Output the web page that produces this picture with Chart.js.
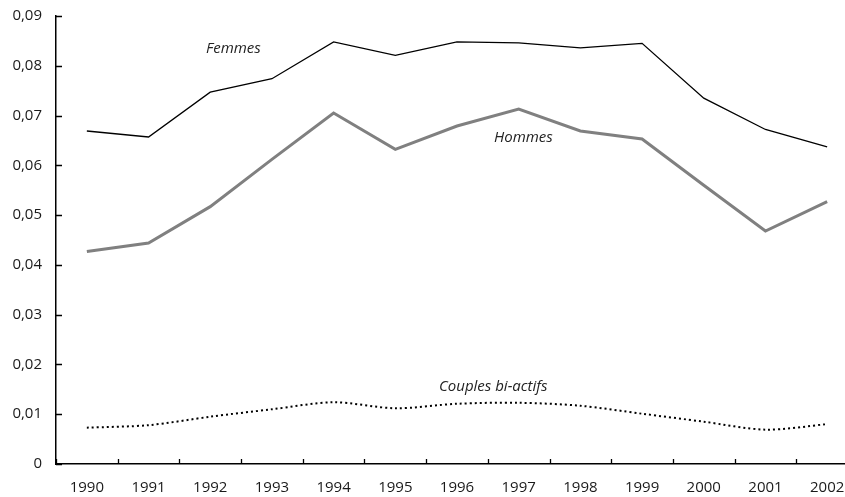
<!DOCTYPE html>
<html>
<head>
<meta charset="utf-8">
<script src="https://cdn.jsdelivr.net/npm/chart.js@4.4.1/dist/chart.umd.min.js"></script>
<style>
  html, body { margin:0; padding:0; background:#fff; overflow:hidden; width:845px; height:497px; }
  #wrap { width:860px; height:497px; }
</style>
</head>
<body>
<div id="wrap"><canvas id="chart" width="860" height="497"></canvas></div>
<script>
// données
const years = ['1990','1991','1992','1993','1994','1995','1996','1997','1998','1999','2000','2001','2002'];
const femmes = [0.0669, 0.0657, 0.0747, 0.0774, 0.0848, 0.0821, 0.0848, 0.0846, 0.0836, 0.0845, 0.0735, 0.0672, 0.0637];
const hommes = [0.0427, 0.0444, 0.0517, 0.0612, 0.0705, 0.0632, 0.0679, 0.0713, 0.0669, 0.0653, 0.0560, 0.0468, 0.0527];
const couples = [0.0073, 0.0078, 0.0095, 0.0110, 0.0124, 0.0112, 0.0121, 0.0123, 0.0117, 0.0101, 0.0085, 0.0069, 0.0080];
const yTicks = [0, 0.01, 0.02, 0.03, 0.04, 0.05, 0.06, 0.07, 0.08, 0.09];

const FONT = '"Open Sans", "Noto Sans", sans-serif';

// etiquettes en italique + petits traits de graduation vers l'intérieur
const decor = {
  id: 'decor',
  afterDraw(chart) {
    const ctx = chart.ctx;
    const x = chart.scales.x, y = chart.scales.y;
    const a = chart.chartArea;
    ctx.save();
    ctx.strokeStyle = '#000';
    ctx.lineWidth = 1.3;
    ctx.beginPath();
    yTicks.forEach(v => {
      const py = Math.round(y.getPixelForValue(v)) + 0.5;
      ctx.moveTo(a.left, py); ctx.lineTo(a.left + 6, py);
    });
    const step = x.getPixelForValue(1) - x.getPixelForValue(0);
    for (let i = 0; i <= years.length; i++) {
      const px = Math.round(x.getPixelForValue(i) - step / 2) + 0.5;
      ctx.moveTo(px, a.bottom); ctx.lineTo(px, a.bottom - 5);
    }
    ctx.stroke();

    ctx.fillStyle = '#222';
    ctx.font = 'italic 15px ' + FONT;
    ctx.textBaseline = 'middle';
    ctx.fillText('Femmes', 206, 49);
    ctx.fillText('Hommes', 494, 138);
    ctx.fillText('Couples bi-actifs', 439, 387);
    ctx.restore();
  }
};

new Chart(document.getElementById('chart'), {
  type: 'line',
  data: {
    labels: years,
    datasets: [
      { label: 'Femmes', data: femmes, borderColor: '#000', borderWidth: 1.3, pointRadius: 0, tension: 0 },
      { label: 'Hommes', data: hommes, borderColor: '#808080', borderWidth: 3, pointRadius: 0, tension: 0 },
      { label: 'Couples bi-actifs', data: couples, borderColor: '#000', borderWidth: 2, borderDash: [2, 3], pointRadius: 0, tension: 0.3 }
    ]
  },
  options: {
    responsive: false,
    animation: false,
    layout: { padding: { top: 16, right: 2, left: 0, bottom: 0 } },
    plugins: { legend: { display: false }, tooltip: { enabled: false } },
    scales: {
      x: {
        offset: true,
        grid: { display: false, drawTicks: false },
        border: { display: true, color: '#000', width: 1.5 },
        ticks: { color: '#1a1a1a', font: { family: FONT, size: 15 }, padding: 15, maxRotation: 0, autoSkip: false },
        afterFit(s) { s.height = 33; s.paddingLeft = 0; s.paddingRight = 0; }
      },
      y: {
        min: 0, max: 0.09,
        afterBuildTicks(s) { s.ticks = yTicks.map(v => ({ value: v })); },
        grid: { display: false, drawTicks: false },
        border: { display: true, color: '#000', width: 1.5 },
        ticks: {
          color: '#1a1a1a', font: { family: FONT, size: 15 }, padding: 14,
          callback: v => v === 0 ? '0' : v.toFixed(2).replace('.', ',')
        },
        afterFit(s) { s.width = 56; s.paddingTop = 0; s.paddingBottom = 0; }
      }
    }
  },
  plugins: [decor]
});
</script>
</body>
</html>
